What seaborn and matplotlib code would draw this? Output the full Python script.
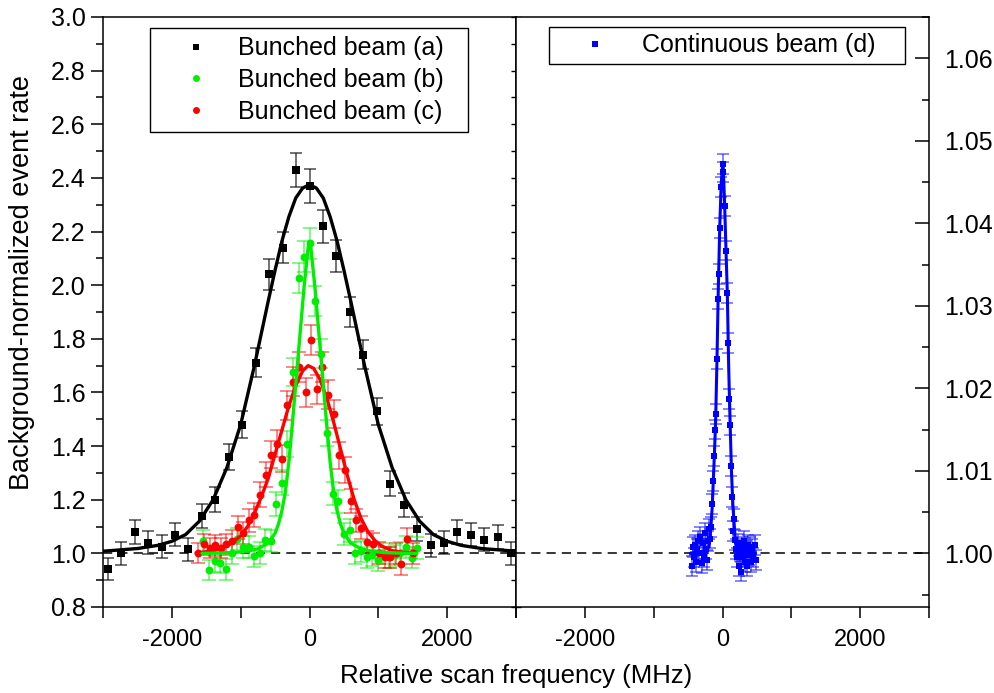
import numpy as np
import pandas as pd
import matplotlib
matplotlib.use("Agg")
import matplotlib.pyplot as plt
from matplotlib.lines import Line2D
from matplotlib.ticker import MultipleLocator, FormatStrFormatter
import seaborn as sns

# ---------------- data ----------------
# Bunched beam (a) - black squares
a_x = [-2930, -2735, -2540, -2344, -2149, -1953, -1758, -1563, -1367, -1172, -977, -781, -586, -391, -195,
       0, 195, 391, 586, 781, 977, 1172, 1367, 1563, 1758, 1953, 2149, 2344, 2540, 2735, 2930]
a_y = [0.94, 1.00, 1.08, 1.04, 1.025, 1.07, 1.015, 1.14, 1.20, 1.36, 1.48, 1.71, 2.04, 2.14, 2.43,
       2.37, 2.22, 2.11, 1.90, 1.74, 1.53, 1.26, 1.18, 1.09, 1.03, 1.04, 1.08, 1.07, 1.05, 1.06, 1.00]
a_err = [0.041, 0.042, 0.044, 0.043, 0.042, 0.044, 0.042, 0.045, 0.046, 0.048, 0.050, 0.054, 0.058, 0.059, 0.064,
         0.063, 0.062, 0.060, 0.057, 0.054, 0.051, 0.047, 0.046, 0.045, 0.043, 0.043, 0.044, 0.044, 0.043, 0.044, 0.042]
a_fit_x = [-3000, -2500, -2200, -2000, -1800, -1600, -1400, -1200, -1000, -800, -600, -500, -400, -300, -200, -100, 0,
           100, 200, 300, 400, 500, 600, 800, 1000, 1200, 1400, 1600, 1800, 2000, 2200, 2500, 3000]
a_fit_y = [1.008, 1.018, 1.03, 1.045, 1.07, 1.12, 1.20, 1.32, 1.48, 1.70, 1.94, 2.056, 2.165, 2.255, 2.325, 2.362, 2.375,
           2.362, 2.325, 2.255, 2.165, 2.056, 1.94, 1.70, 1.48, 1.32, 1.20, 1.12, 1.07, 1.045, 1.03, 1.018, 1.008]

# Bunched beam (b) - green circles
b_x = [-1547, -1464, -1377, -1294, -1216, -1124, -1051, -968, -880, -808, -725, -647, -565, -482, -394, -321,
       -234, -156, -78, 0, 78, 165, 250, 336, 418, 506, 589, 667, 750, 832, 910, 993, 1075, 1153, 1236, 1319,
       1406, 1489, 1567]
b_y = [1.046, 0.939, 0.971, 0.965, 0.940, 1.001, 1.052, 1.024, 1.024, 0.990, 1.001, 1.049, 1.046, 1.185, 1.264,
       1.409, 1.677, 2.027, 2.106, 2.156, 1.94, 1.745, 1.45, 1.223, 1.194, 1.073, 1.086, 1.001, 1.007, 0.986,
       0.993, 0.974, 0.999, 0.986, 0.993, 1.001, 1.024, 0.984, 1.02]
b_err = [0.040, 0.038, 0.039, 0.039, 0.038, 0.040, 0.041, 0.040, 0.040, 0.039, 0.040, 0.041, 0.041, 0.044, 0.045,
         0.048, 0.052, 0.057, 0.058, 0.059, 0.056, 0.053, 0.048, 0.044, 0.044, 0.041, 0.042, 0.040, 0.040, 0.039,
         0.040, 0.039, 0.040, 0.039, 0.040, 0.040, 0.040, 0.039, 0.040]
b_fit_x = [-1560, -1300, -1100, -900, -750, -600, -500, -450, -400, -350, -300, -250, -200, -160, -120, -80, -40, -20, 0,
           20, 40, 80, 120, 160, 200, 250, 300, 350, 400, 450, 500, 600, 750, 900, 1100, 1300, 1560]
b_fit_y = [1.000, 1.001, 1.003, 1.008, 1.017, 1.038, 1.075, 1.11, 1.16, 1.23, 1.34, 1.48, 1.63, 1.75, 1.87, 1.99, 2.09, 2.14, 2.16,
           2.14, 2.09, 1.99, 1.87, 1.75, 1.63, 1.48, 1.34, 1.23, 1.16, 1.11, 1.075, 1.038, 1.017, 1.008, 1.003, 1.001, 1.000]

# Bunched beam (c) - red circles
c_x = [-1620, -1538, -1450, -1367, -1290, -1207, -1124, -1041, -964, -880, -808, -725, -638, -555, -467, -394,
       -321, -234, -146, -58, 19, 102, 185, 273, 350, 433, 516, 603, 676, 750, 837, 920, 1007, 1090, 1173, 1250,
       1333, 1421, 1500]
c_y = [1.002, 1.034, 1.02, 1.03, 1.02, 1.034, 1.045, 1.098, 1.076, 1.123, 1.142, 1.219, 1.294, 1.368, 1.409, 1.353,
       1.552, 1.64, 1.695, 1.60, 1.795, 1.612, 1.695, 1.592, 1.521, 1.366, 1.312, 1.195, 1.123, 1.096, 1.042, 1.036,
       1.001, 0.986, 0.986, 1.0, 0.959, 1.055, 1.0]
c_err = [0.038, 0.040, 0.039, 0.040, 0.039, 0.040, 0.041, 0.043, 0.042, 0.044, 0.044, 0.046, 0.048, 0.050, 0.051, 0.050,
         0.053, 0.055, 0.056, 0.054, 0.057, 0.054, 0.056, 0.054, 0.052, 0.050, 0.049, 0.046, 0.044, 0.043, 0.041, 0.041,
         0.040, 0.039, 0.039, 0.040, 0.038, 0.041, 0.040]
c_fit_x = [-1620, -1450, -1300, -1150, -1000, -900, -800, -700, -600, -500, -400, -300, -200, -100, -20, 60, 150,
           250, 350, 450, 550, 650, 750, 850, 950, 1050, 1200, 1350, 1530]
c_fit_y = [1.002, 1.008, 1.018, 1.035, 1.065, 1.10, 1.15, 1.21, 1.28, 1.37, 1.46, 1.55, 1.625, 1.68, 1.70, 1.69, 1.65,
           1.58, 1.49, 1.39, 1.29, 1.20, 1.13, 1.08, 1.048, 1.027, 1.010, 1.004, 1.001]

# Continuous beam (d) - blue squares
d_x = [-440, -425, -410, -395, -380, -365, -350, -335, -320, -305, -290, -275, -260, -245, -230, -215, -200,
       -185, -171, -150, -136, -121, -107, -92, -83, -69, -54, -39, -19, 4, 14, 34, 54, 69, 83, 98, 112, 127,
       142, 156, 165, 180, 195, 210, 225, 240, 255, 270, 285, 300, 315, 330, 345, 360, 375, 390, 405, 420, 435,
       450, 465, 480]
d_y = [0.9985, 1.0008, 0.9995, 1.0010, 0.9990, 1.0005, 1.0015, 1.0000, 1.0020, 0.9988, 1.0012, 0.9995, 1.0025,
       1.0005, 0.9992, 1.0015, 1.0030, 1.0018, 1.0032, 1.0060, 1.0088, 1.0118, 1.0150, 1.0169, 1.0236, 1.0308,
       1.0339, 1.0394, 1.0444, 1.0472, 1.0462, 1.0421, 1.0367, 1.0316, 1.0255, 1.0187, 1.0155, 1.0106, 1.0068,
       1.0027, 1.0042, 1.0016, 1.0005, 0.9995, 1.0012, 0.9985, 1.0003, 0.9978, 1.0008, 0.9995, 1.0015, 0.9990,
       1.0003, 0.9985, 1.0010, 0.9998, 1.0008, 0.9990, 1.0005, 0.9995, 1.0010, 0.9992]
d_err = [0.0012] * len(d_x)
d_fit_x = [-470, -250, -200, -180, -150, -120, -100, -80, -60, -40, -20, 0, 10, 30, 50, 70, 90, 110, 130,
           150, 170, 190, 250, 480]
d_fit_y = [1.0000, 1.0002, 1.0008, 1.0018, 1.0055, 1.0115, 1.0160, 1.0235, 1.0325, 1.0395, 1.0445, 1.0470,
           1.0470, 1.0425, 1.0370, 1.0315, 1.0225, 1.0160, 1.0100, 1.0060, 1.0035, 1.0012, 1.0003, 1.0000]

labels = ["Bunched beam (a)", "Bunched beam (b)", "Bunched beam (c)", "Continuous beam (d)"]
colors = ["#000000", "#00ee00", "#ff0000", "#0000ff"]

# ---------------- style ----------------
sns.set_theme(style="ticks")
plt.rcParams["font.family"] = ["Liberation Sans", "DejaVu Sans"]
plt.rcParams["axes.unicode_minus"] = False
plt.rcParams["axes.linewidth"] = 1.1
for k in ("text.color", "axes.labelcolor", "xtick.color", "ytick.color", "axes.edgecolor"):
    plt.rcParams[k] = "black"

fig = plt.figure(figsize=(9.94, 6.93), dpi=100)
axL = fig.add_axes([103 / 994, 86 / 693, 413 / 994, 590 / 693])
axR = fig.add_axes([516 / 994, 86 / 693, 413 / 994, 590 / 693])

FS = 18

def draw_series(ax, x, y, err, color, marker, ms, cap, ealpha):
    ax.errorbar(x, y, yerr=err, fmt="none", ecolor=color, alpha=ealpha, capsize=cap,
                elinewidth=1.1, capthick=1.1, zorder=2)
    sns.scatterplot(x=x, y=y, ax=ax, color=color, marker=marker, s=ms, edgecolor=color,
                    linewidth=0, zorder=3, legend=False)

def draw_fit(ax, fx, fy, color, lw=2.4):
    sns.lineplot(x=fx, y=fy, ax=ax, color=color, lw=lw, zorder=4, sort=False, estimator=None)

# left panel
draw_series(axL, a_x, a_y, a_err, colors[0], "s", 30, 4.5, 0.7)
draw_series(axL, b_x, b_y, b_err, colors[1], "o", 32, 5.0, 0.6)
draw_series(axL, c_x, c_y, c_err, colors[2], "o", 32, 5.0, 0.6)
draw_fit(axL, a_fit_x, a_fit_y, colors[0])
draw_fit(axL, c_fit_x, c_fit_y, colors[2])
draw_fit(axL, b_fit_x, b_fit_y, colors[1])
axL.axhline(1.0, color="black", lw=1.1, ls=(0, (6, 4)), zorder=1)

# right panel
draw_series(axR, d_x, d_y, d_err, colors[3], "s", 22, 4.0, 0.6)
draw_fit(axR, d_fit_x, d_fit_y, colors[3], lw=2.2)
axR.axhline(1.0, color="black", lw=1.1, ls=(0, (6, 4)), zorder=1)

# axes limits / ticks
for ax in (axL, axR):
    ax.set_xlim(-3000, 3000)
    ax.xaxis.set_major_locator(MultipleLocator(2000))
    ax.xaxis.set_minor_locator(MultipleLocator(1000))
    ax.tick_params(axis="x", which="major", direction="out", length=8, width=1.1, labelsize=FS - 1, pad=8,
                   color="black", labelcolor="black")
    ax.tick_params(axis="x", which="minor", direction="out", length=8, width=1.1, color="black")
    ax.set_xlabel("")
    ax.set_ylabel("")
    for s in ax.spines.values():
        s.set_visible(True)
        s.set_color("black")
        s.set_linewidth(1.1)

axL.set_ylim(0.8, 3.0)
axL.yaxis.set_major_locator(MultipleLocator(0.2))
axL.yaxis.set_minor_locator(MultipleLocator(0.1))
axL.yaxis.set_major_formatter(FormatStrFormatter("%.1f"))
axL.tick_params(axis="y", which="major", direction="out", length=9, width=1.1, labelsize=FS, color="black",
                labelcolor="black")
axL.tick_params(axis="y", which="minor", direction="out", length=5, width=1.1, color="black")
secL = axL.secondary_yaxis("right")
secL.yaxis.set_major_locator(MultipleLocator(0.1))
secL.tick_params(axis="y", which="major", direction="inout", length=7, width=1.0, labelright=False, color="black")
secL.spines["right"].set_visible(False)

axR.set_ylim(0.9935, 1.065)
axR.yaxis.tick_right()
axR.yaxis.set_major_locator(MultipleLocator(0.01))
axR.yaxis.set_minor_locator(MultipleLocator(0.005))
axR.yaxis.set_major_formatter(FormatStrFormatter("%.2f"))
axR.tick_params(axis="y", which="major", direction="in", length=10, width=1.1, labelsize=FS,
                right=True, left=False, labelright=True, labelleft=False, pad=11, color="black",
                labelcolor="black")
axR.tick_params(axis="y", which="minor", direction="in", length=5, width=1.1, right=True, left=False,
                color="black")

fig.text(0.5 * (103 + 929) / 994, 1 - 676 / 693, "Relative scan frequency (MHz)", ha="center", va="center",
         fontsize=18.5, color="black")
fig.text(22 / 994, 1 - 282 / 693, "Background-normalized event rate", ha="center", va="center",
         rotation=90, fontsize=19.5, color="black")

# legends
def handle(color, marker, ms):
    return Line2D([], [], ls="none", marker=marker, color=color, markersize=ms, markeredgewidth=0)

hl = [handle(colors[0], "s", 5), handle(colors[1], "o", 5), handle(colors[2], "o", 5)]
legL = axL.legend(hl, labels[:3], loc="upper left", bbox_to_anchor=(0.114, 0.981, 0.77, 0.0), mode="expand",
                  fontsize=FS, frameon=True, fancybox=False, edgecolor="black", framealpha=1,
                  handlelength=3.0, handletextpad=0.2, labelspacing=0.31, borderpad=0.33, borderaxespad=0,
                  labelcolor="black")
legL.get_frame().set_linewidth(1.0)
legR = axR.legend([handle(colors[3], "s", 4.5)], labels[3:], loc="upper left",
                  bbox_to_anchor=(0.080, 0.983, 0.862, 0.0), mode="expand",
                  fontsize=FS, frameon=True, fancybox=False, edgecolor="black", framealpha=1,
                  handlelength=3.2, handletextpad=0.25, borderpad=0.25, borderaxespad=0, labelcolor="black")
legR.get_frame().set_linewidth(1.0)

fig.savefig("out.png", dpi=100, facecolor="white")
